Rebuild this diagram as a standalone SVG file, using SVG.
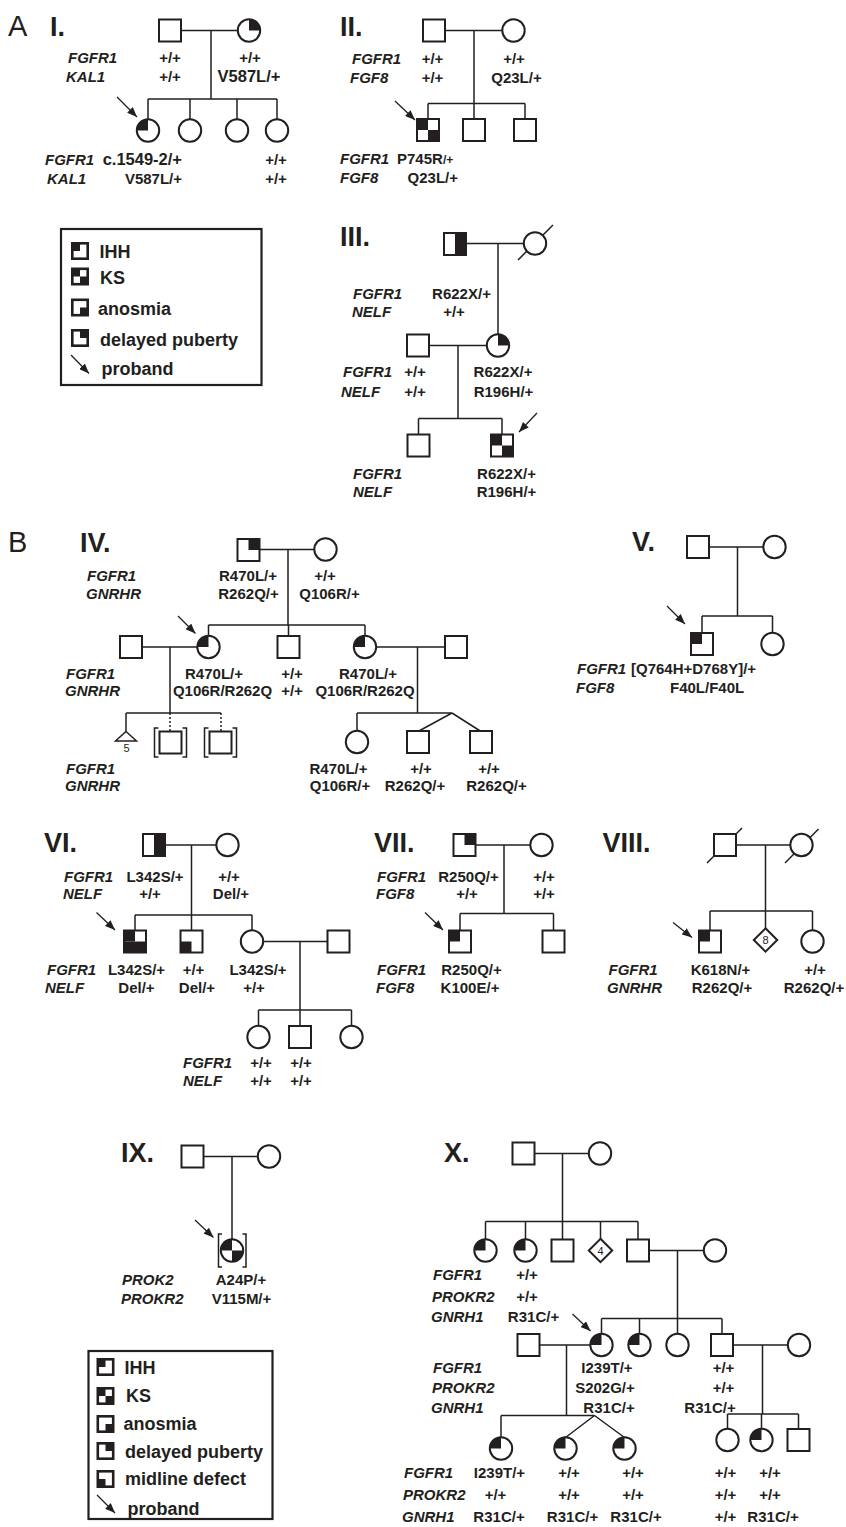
<svg xmlns="http://www.w3.org/2000/svg" xmlns:xlink="http://www.w3.org/1999/xlink" width="846" height="1527" viewBox="0 0 846 1527">
<style>
.sym{fill:#fff;stroke:#231f20;stroke-width:2}
.lsym{fill:#fff;stroke:#231f20;stroke-width:2.6}
.blk{fill:#231f20;stroke:none}
.ln{stroke:#231f20;stroke-width:1.5;fill:none}
.dot{stroke-dasharray:2 2}
.ar{stroke:#231f20;stroke-width:1.3;fill:none;marker-end:url(#ah)}
.box{fill:none;stroke:#231f20;stroke-width:2.2}
text{font-family:"Liberation Sans",Arial,Helvetica,sans-serif;font-weight:bold;font-size:15px;fill:#231f20}
.g{font-style:italic}
.m{text-anchor:middle}
.e{text-anchor:end}
.big{font-size:16.5px}
.lab{font-size:27px}
.sec{font-size:29px;font-weight:normal}
.leg{font-size:18px}
.num{font-size:11px;font-weight:normal}
</style>
<defs>
<marker id="ah" markerWidth="10" markerHeight="8" refX="10" refY="4" orient="auto" markerUnits="userSpaceOnUse"><path d="M0,0 L10,4 L0,8 Z" fill="#231f20"/></marker>
<rect id="sq" class="sym" x="-11" y="-11" width="22" height="22"/>
<circle id="ci" class="sym" r="11.2"/>
<rect id="sTL" class="blk" x="-11" y="-11" width="11" height="11"/>
<rect id="sTR" class="blk" x="0" y="-11" width="11" height="11"/>
<rect id="sBL" class="blk" x="-11" y="0" width="11" height="11"/>
<rect id="sBR" class="blk" x="0" y="0" width="11" height="11"/>
<path id="cTL" class="blk" d="M0,0H-11.2A11.2,11.2 0 0 1 0,-11.2Z"/>
<path id="cTR" class="blk" d="M0,0V-11.2A11.2,11.2 0 0 1 11.2,0Z"/>
<path id="cBR" class="blk" d="M0,0H11.2A11.2,11.2 0 0 1 0,11.2Z"/>
<path id="dm" class="sym" d="M0,-11.7L11.7,0L0,11.7L-11.7,0Z"/>
<rect id="lq" class="lsym" x="-7.7" y="-7.7" width="15.4" height="15.4"/>
<rect id="lTL" class="blk" x="-8" y="-8" width="8" height="8"/>
<rect id="lTR" class="blk" x="0" y="-8" width="8" height="8"/>
<rect id="lBL" class="blk" x="-8" y="0" width="8" height="8"/>
<rect id="lBR" class="blk" x="0" y="0" width="8" height="8"/>
</defs>
<rect width="846" height="1527" fill="#fff"/>

<g id="connectors">
<path class="ln" d="M181,30.5H238M211,30.5V99M148,99H277M148,99V119M190,99V119M237,99V119M277,99V119"/>
<path class="ln" d="M445,30.5H502M474,30.5V103.5M428,103.5H525M428,103.5V119M474,103.5V119M525,103.5V119"/>
<path class="ln" d="M466,243.5H524M498,243.5V334M429,345.5H487M458,345.5V418.5M418.5,418.5H502M418.5,418.5V434.5M502,418.5V434.5"/>
<path class="ln" d="M518,260L553,225"/>
<path class="ln" d="M259.5,549.5H314M288,549.5V625M208.5,625H365M208.5,625V636M288.5,625V636M365,625V636"/>
<path class="ln" d="M142,647H197.5M170,647V713M126,713H221M126,713V731.5"/>
<path class="ln dot" d="M170,713V731.5M221,713V731.5"/>
<path class="ln" d="M158.5,728H154.5V757H158.5M182.5,728H186.5V757H182.5M208.5,728H204.5V757H208.5M232.5,728H236.5V757H232.5"/>
<path class="ln" d="M376,647H445M417.5,647V713M357,713H452M357,713V731M452,713L418,731.5M452,713L481,731.5"/>
<path class="ln" d="M709,547H763.5M737.5,547V616M702,616H772.5M702,616V633M772.5,616V633"/>
<path class="ln" d="M165,845H216.5M191.5,845V915M135,915H252M135,915V930.5M191.5,915V930.5M252,915V930.5"/>
<path class="ln" d="M263,941.5H327.5M300,941.5V1010M258.5,1010H351.5M258.5,1010V1026M300,1010V1026M351.5,1010V1026"/>
<path class="ln" d="M475.5,845H530.5M504,845V913.5M460,913.5H553.5M460,913.5V930.5M553.5,913.5V930.5"/>
<path class="ln" d="M736,845H790.5M765.5,845V911M710,911H812.5M710,911V930.5M765.5,911V928.5M812.5,911V930.5"/>
<path class="ln" d="M707,863L742,828M785,863L818.5,829"/>
<path class="ln" d="M203.5,1156.5H258M232,1156.5V1239.5"/>
<path class="ln" d="M222,1234H218.5V1267H222M242.5,1234H246V1267H242.5"/>
<path class="ln" d="M534.5,1153.5H589M562.5,1153.5V1221.5M485.5,1221.5H638M485.5,1221.5V1239.5M525.5,1221.5V1239.5M562.5,1221.5V1239.5M600.5,1221.5V1239M638,1221.5V1239.5"/>
<path class="ln" d="M649,1250.5H704M677.5,1250.5V1318.5M601.5,1318.5H722M601.5,1318.5V1334M639.5,1318.5V1334M677.5,1318.5V1334M722,1318.5V1334"/>
<path class="ln" d="M539.5,1345H590.5M566.5,1345V1415.5M501,1415.5H594.5M501,1415.5V1437.5M594.5,1415.5L565.5,1437.5M594.5,1415.5L624.5,1437.5"/>
<path class="ln" d="M732.5,1345H788M762.5,1345V1414M727.5,1414H798.5M727.5,1414V1429M761.5,1414V1429M798.5,1414V1429"/>
<path class="ar" d="M117,97L137,117"/>
<path class="ar" d="M395,101L415,120"/>
<path class="ar" d="M537,413L519,432"/>
<path class="ar" d="M178,616L195.5,633.5"/>
<path class="ar" d="M667,606L685,624"/>
<path class="ar" d="M96.5,912.5L115,930"/>
<path class="ar" d="M425,912.5L443,930"/>
<path class="ar" d="M673,922.5L692,937.5"/>
<path class="ar" d="M195,1220L213.5,1237.5"/>
<path class="ar" d="M572.5,1314L590.5,1331"/>
</g>

<text class="sec" x="8" y="36">A</text>
<text class="sec" x="8" y="552">B</text>

<g id="panel-I">
<text class="lab" x="50" y="36">I.</text>
<text class="g" x="68" y="63">FGFR1</text>
<text class="g" x="66" y="82">KAL1</text>
<text class="g" x="45" y="165">FGFR1</text>
<text class="g" x="47" y="184">KAL1</text>
</g>
<g id="I-father"><use href="#sq" x="170" y="30.5"/><text class="m" x="170" y="63">+/+</text><text class="m" x="170" y="82">+/+</text></g>
<g id="I-mother"><use href="#ci" x="249" y="30.5"/><use href="#cTR" x="249" y="30.5"/><text class="m" x="250" y="63">+/+</text><text class="m big" x="249" y="82">V587L/+</text></g>
<g id="I-proband"><use href="#ci" x="148" y="130.5"/><use href="#cTL" x="148" y="130.5"/><text class="e big" x="182" y="165">c.1549-2/+</text><text class="e" x="182" y="184">V587L/+</text></g>
<g id="I-sib2"><use href="#ci" x="190" y="130.5"/></g>
<g id="I-sib3"><use href="#ci" x="237" y="130.5"/></g>
<g id="I-sib4"><use href="#ci" x="277" y="130.5"/><text class="m" x="276" y="165">+/+</text><text class="m" x="276" y="184">+/+</text></g>

<g id="panel-II">
<text class="lab" x="340" y="36">II.</text>
<text class="g" x="352" y="64">FGFR1</text>
<text class="g" x="350" y="82.5">FGF8</text>
<text class="g" x="340" y="164">FGFR1</text>
<text class="g" x="340" y="183">FGF8</text>
</g>
<g id="II-father"><use href="#sq" x="434" y="30.5"/><text class="m" x="432.5" y="64">+/+</text><text class="m" x="432.5" y="82.5">+/+</text></g>
<g id="II-mother"><use href="#ci" x="513.5" y="30.5"/><text class="m" x="514" y="64">+/+</text><text class="m" x="516.5" y="82.5">Q23L/+</text></g>
<g id="II-proband"><use href="#sq" x="428" y="130"/><use href="#sTL" x="428" y="130"/><use href="#sBR" x="428" y="130"/><text x="397" y="164">P745R<tspan font-size="12">/+</tspan></text><text class="e" x="458" y="183">Q23L/+</text></g>
<g id="II-sib2"><use href="#sq" x="474" y="130"/></g>
<g id="II-sib3"><use href="#sq" x="525" y="130"/></g>

<g id="legend-A">
<rect class="box" x="61" y="229" width="200.5" height="156"/>
<use href="#lq" x="80" y="251"/><use href="#lTL" x="80" y="251"/>
<text class="leg" x="99.5" y="258">IHH</text>
<use href="#lq" x="80" y="276.5"/><use href="#lTL" x="80" y="276.5"/><use href="#lBR" x="80" y="276.5"/>
<text class="leg" x="100" y="284">KS</text>
<use href="#lq" x="80" y="307.5"/><use href="#lBR" x="80" y="307.5"/>
<text class="leg" x="98" y="315">anosmia</text>
<use href="#lq" x="80" y="338"/><use href="#lTR" x="80" y="338"/>
<text class="leg" x="100" y="346">delayed puberty</text>
<path class="ar" d="M71,355L89,373.5"/>
<text class="leg" x="101.5" y="375">proband</text>
</g>

<g id="panel-III">
<text class="lab" x="340" y="246">III.</text>
<text class="g" x="353" y="299">FGFR1</text>
<text class="g" x="352" y="317">NELF</text>
<text class="g" x="343" y="377">FGFR1</text>
<text class="g" x="341" y="397">NELF</text>
<text class="g" x="353" y="478.5">FGFR1</text>
<text class="g" x="353" y="497">NELF</text>
</g>
<g id="III-grandfather"><use href="#sq" x="455" y="244"/><use href="#sTR" x="455" y="244"/><use href="#sBR" x="455" y="244"/><text class="m" x="461.5" y="299">R622X/+</text><text class="m" x="454" y="317">+/+</text></g>
<g id="III-grandmother"><use href="#ci" x="535" y="243.5"/></g>
<g id="III-mother"><use href="#ci" x="498" y="345.5"/><use href="#cTR" x="498" y="345.5"/><text class="m" x="503" y="377">R622X/+</text><text class="m" x="503.5" y="397">R196H/+</text></g>
<g id="III-father"><use href="#sq" x="418" y="345.5"/><text class="m" x="415" y="377">+/+</text><text class="m" x="415" y="397">+/+</text></g>
<g id="III-sib"><use href="#sq" x="418.5" y="445.5"/></g>
<g id="III-proband"><use href="#sq" x="502" y="445.5"/><use href="#sTL" x="502" y="445.5"/><use href="#sBR" x="502" y="445.5"/><text class="m" x="506.5" y="478.5">R622X/+</text><text class="m" x="506.5" y="497">R196H/+</text></g>

<g id="panel-IV">
<text class="lab" x="80" y="552">IV.</text>
<text class="g" x="87" y="581">FGFR1</text>
<text class="g" x="86" y="598.5">GNRHR</text>
<text class="g" x="66" y="678.5">FGFR1</text>
<text class="g" x="65" y="696">GNRHR</text>
<text class="g" x="66" y="773.5">FGFR1</text>
<text class="g" x="65" y="791">GNRHR</text>
</g>
<g id="IV-father"><use href="#sq" x="248.5" y="550"/><use href="#sTR" x="248.5" y="550"/><text class="m" x="248" y="581">R470L/+</text><text class="m" x="248.5" y="598.5">R262Q/+</text></g>
<g id="IV-mother"><use href="#ci" x="325.5" y="549.5"/><text class="m" x="325" y="581">+/+</text><text class="m" x="329.5" y="598.5">Q106R/+</text></g>
<g id="IV-proband"><use href="#ci" x="208.5" y="647"/><use href="#cTL" x="208.5" y="647"/><text class="m" x="214" y="678.5">R470L/+</text><text class="m" x="222.5" y="696">Q106R/R262Q</text></g>
<g id="IV-husband1"><use href="#sq" x="131" y="647"/></g>
<g id="IV-brother"><use href="#sq" x="288.5" y="647"/><text class="m" x="292" y="678.5">+/+</text><text class="m" x="292" y="696">+/+</text></g>
<g id="IV-sister"><use href="#ci" x="365" y="647"/><use href="#cTL" x="365" y="647"/><text class="m" x="368" y="678.5">R470L/+</text><text class="m" x="365" y="696">Q106R/R262Q</text></g>
<g id="IV-husband2"><use href="#sq" x="456" y="647"/></g>
<g id="IV-five"><path class="sym" style="stroke-width:1.5" d="M126,731.5L136.5,741L115.5,741Z"/><text class="num m" x="126.5" y="752">5</text></g>
<g id="IV-child2"><use href="#sq" x="170.5" y="742.5"/></g>
<g id="IV-child3"><use href="#sq" x="220.5" y="742.5"/></g>
<g id="IV-niece"><use href="#ci" x="357" y="742"/><text class="m" x="338.5" y="773.5">R470L/+</text><text class="m" x="340" y="791">Q106R/+</text></g>
<g id="IV-twin1"><use href="#sq" x="418" y="742"/><text class="m" x="421" y="773.5">+/+</text><text class="m" x="415" y="791">R262Q/+</text></g>
<g id="IV-twin2"><use href="#sq" x="481" y="742"/><text class="m" x="489" y="773.5">+/+</text><text class="m" x="496.5" y="791">R262Q/+</text></g>

<g id="panel-V">
<text class="lab" x="632" y="551">V.</text>
<text class="g" x="577" y="674">FGFR1</text>
<text class="g" x="576" y="692.5">FGF8</text>
</g>
<g id="V-father"><use href="#sq" x="698" y="547"/></g>
<g id="V-mother"><use href="#ci" x="774.5" y="547"/></g>
<g id="V-proband"><use href="#sq" x="702" y="644"/><use href="#sTL" x="702" y="644"/><text x="631" y="674">[Q764H+D768Y]/+</text><text x="670" y="692.5">F40L/F40L</text></g>
<g id="V-sister"><use href="#ci" x="772.5" y="644"/></g>

<g id="panel-VI">
<text class="lab" x="44" y="852">VI.</text>
<text class="g" x="64" y="882">FGFR1</text>
<text class="g" x="63" y="899">NELF</text>
<text class="g" x="47" y="975">FGFR1</text>
<text class="g" x="45" y="993">NELF</text>
<text class="g" x="183" y="1068">FGFR1</text>
<text class="g" x="183" y="1086">NELF</text>
</g>
<g id="VI-father"><use href="#sq" x="154" y="845"/><use href="#sTR" x="154" y="845"/><use href="#sBR" x="154" y="845"/><text class="m" x="155" y="882">L342S/+</text><text class="m" x="150" y="899">+/+</text></g>
<g id="VI-mother"><use href="#ci" x="227.5" y="845"/><text class="m" x="229" y="882">+/+</text><text class="m" x="231" y="899">Del/+</text></g>
<g id="VI-proband"><use href="#sq" x="135" y="941.5"/><use href="#sTL" x="135" y="941.5"/><use href="#sBL" x="135" y="941.5"/><use href="#sBR" x="135" y="941.5"/><text class="m" x="136.5" y="975">L342S/+</text><text class="m" x="136.5" y="993">Del/+</text></g>
<g id="VI-brother"><use href="#sq" x="191.5" y="941.5"/><use href="#sBL" x="191.5" y="941.5"/><text class="m" x="193.5" y="975">+/+</text><text class="m" x="197" y="993">Del/+</text></g>
<g id="VI-sister"><use href="#ci" x="252" y="941.5"/><text class="m" x="258" y="975">L342S/+</text><text class="m" x="254" y="993">+/+</text></g>
<g id="VI-husband"><use href="#sq" x="338.5" y="941.5"/></g>
<g id="VI-gc1"><use href="#ci" x="258.5" y="1037"/><text class="m" x="261" y="1068">+/+</text><text class="m" x="261" y="1086">+/+</text></g>
<g id="VI-gc2"><use href="#sq" x="300" y="1037"/><text class="m" x="301" y="1068">+/+</text><text class="m" x="301" y="1086">+/+</text></g>
<g id="VI-gc3"><use href="#ci" x="351.5" y="1037"/></g>

<g id="panel-VII">
<text class="lab" x="374" y="852">VII.</text>
<text class="g" x="377" y="882">FGFR1</text>
<text class="g" x="376" y="899">FGF8</text>
<text class="g" x="377" y="975">FGFR1</text>
<text class="g" x="376" y="993">FGF8</text>
</g>
<g id="VII-father"><use href="#sq" x="464.5" y="845"/><use href="#sTR" x="464.5" y="845"/><text class="m" x="468.5" y="882">R250Q/+</text><text class="m" x="467" y="899">+/+</text></g>
<g id="VII-mother"><use href="#ci" x="541.5" y="845"/><text class="m" x="544" y="882">+/+</text><text class="m" x="544" y="899">+/+</text></g>
<g id="VII-proband"><use href="#sq" x="460" y="941.5"/><use href="#sTL" x="460" y="941.5"/><text class="m" x="471.5" y="975">R250Q/+</text><text class="m" x="470" y="993">K100E/+</text></g>
<g id="VII-brother"><use href="#sq" x="553.5" y="941.5"/></g>

<g id="panel-VIII">
<text class="lab" x="602.5" y="852">VIII.</text>
<text class="g" x="608.5" y="975">FGFR1</text>
<text class="g" x="607" y="993">GNRHR</text>
</g>
<g id="VIII-father"><use href="#sq" x="725" y="845"/></g>
<g id="VIII-mother"><use href="#ci" x="801.5" y="845"/></g>
<g id="VIII-proband"><use href="#sq" x="710" y="941.5"/><use href="#sTL" x="710" y="941.5"/><text class="m" x="720.5" y="975">K618N/+</text><text class="m" x="722" y="993">R262Q/+</text></g>
<g id="VIII-sibs8"><use href="#dm" x="765.5" y="940"/><text class="num m" x="765.5" y="944">8</text></g>
<g id="VIII-sister"><use href="#ci" x="812.5" y="941.5"/><text class="m" x="815" y="975">+/+</text><text class="m" x="814" y="993">R262Q/+</text></g>

<g id="panel-IX">
<text class="lab" x="121" y="1162">IX.</text>
<text class="g" x="122" y="1285">PROK2</text>
<text class="g" x="121" y="1304">PROKR2</text>
</g>
<g id="IX-father"><use href="#sq" x="192.5" y="1156.5"/></g>
<g id="IX-mother"><use href="#ci" x="269" y="1156.5"/></g>
<g id="IX-proband"><use href="#ci" x="232" y="1250.5"/><use href="#cTL" x="232" y="1250.5"/><use href="#cBR" x="232" y="1250.5"/><text class="m" x="241" y="1285">A24P/+</text><text class="m" x="241.5" y="1304">V115M/+</text></g>

<g id="legend-B">
<rect class="box" x="88.5" y="1351" width="184" height="168"/>
<use href="#lq" x="105.5" y="1367"/><use href="#lTL" x="105.5" y="1367"/>
<text class="leg" x="124.5" y="1373.5">IHH</text>
<use href="#lq" x="105.5" y="1396"/><use href="#lTL" x="105.5" y="1396"/><use href="#lBR" x="105.5" y="1396"/>
<text class="leg" x="126" y="1402">KS</text>
<use href="#lq" x="105.5" y="1424"/><use href="#lBR" x="105.5" y="1424"/>
<text class="leg" x="123.5" y="1430">anosmia</text>
<use href="#lq" x="105.5" y="1451"/><use href="#lTR" x="105.5" y="1451"/>
<text class="leg" x="125" y="1458">delayed puberty</text>
<use href="#lq" x="105.5" y="1479"/><use href="#lBL" x="105.5" y="1479"/>
<text class="leg" x="125" y="1485">midline defect</text>
<path class="ar" d="M97,1495L115,1513"/>
<text class="leg" x="127.5" y="1515">proband</text>
</g>

<g id="panel-X">
<text class="lab" x="444" y="1162">X.</text>
<text class="g" x="433" y="1280">FGFR1</text>
<text class="g" x="432" y="1301.5">PROKR2</text>
<text class="g" x="431" y="1321.5">GNRH1</text>
<text class="g" x="433" y="1372.5">FGFR1</text>
<text class="g" x="432" y="1393">PROKR2</text>
<text class="g" x="431" y="1413">GNRH1</text>
<text class="g" x="404" y="1478">FGFR1</text>
<text class="g" x="403" y="1500">PROKR2</text>
<text class="g" x="402" y="1521.5">GNRH1</text>
</g>
<g id="X-grandfather"><use href="#sq" x="523.5" y="1153.5"/></g>
<g id="X-grandmother"><use href="#ci" x="600" y="1153.5"/></g>
<g id="X-aunt1"><use href="#ci" x="485.5" y="1250.5"/><use href="#cTL" x="485.5" y="1250.5"/></g>
<g id="X-aunt2"><use href="#ci" x="525.5" y="1250.5"/><use href="#cTL" x="525.5" y="1250.5"/><text class="m" x="527" y="1280">+/+</text><text class="m" x="527" y="1301.5">+/+</text><text class="m" x="533.5" y="1321.5">R31C/+</text></g>
<g id="X-uncle"><use href="#sq" x="562.5" y="1250.5"/></g>
<g id="X-sibs4"><use href="#dm" x="600.5" y="1250.5"/><text class="num m" x="600.5" y="1254.5">4</text></g>
<g id="X-father"><use href="#sq" x="638" y="1250.5"/></g>
<g id="X-mother"><use href="#ci" x="715" y="1250.5"/></g>
<g id="X-proband"><use href="#ci" x="601.5" y="1345"/><use href="#cTL" x="601.5" y="1345"/><text class="m" x="607" y="1372.5">I239T/+</text><text class="m" x="605" y="1393">S202G/+</text><text class="m" x="609" y="1413">R31C/+</text></g>
<g id="X-husband"><use href="#sq" x="528.5" y="1345"/></g>
<g id="X-sister1"><use href="#ci" x="639.5" y="1345"/><use href="#cTL" x="639.5" y="1345"/></g>
<g id="X-sister2"><use href="#ci" x="677.5" y="1345"/></g>
<g id="X-brother"><use href="#sq" x="722" y="1345"/><text class="m" x="723.5" y="1372.5">+/+</text><text class="m" x="723.5" y="1393">+/+</text><text class="m" x="710" y="1413">R31C/+</text></g>
<g id="X-sil"><use href="#ci" x="799" y="1345"/></g>
<g id="X-d1"><use href="#ci" x="501" y="1448.5"/><use href="#cTL" x="501" y="1448.5"/><text class="m" x="499.5" y="1478">I239T/+</text><text class="m" x="495.5" y="1500">+/+</text><text class="m" x="499" y="1521.5">R31C/+</text></g>
<g id="X-d2"><use href="#ci" x="565.5" y="1448.5"/><use href="#cTL" x="565.5" y="1448.5"/><text class="m" x="569" y="1478">+/+</text><text class="m" x="569" y="1500">+/+</text><text class="m" x="572.5" y="1521.5">R31C/+</text></g>
<g id="X-d3"><use href="#ci" x="624.5" y="1448.5"/><use href="#cTL" x="624.5" y="1448.5"/><text class="m" x="633" y="1478">+/+</text><text class="m" x="633" y="1500">+/+</text><text class="m" x="636" y="1521.5">R31C/+</text></g>
<g id="X-c1"><use href="#ci" x="727.5" y="1440"/><text class="m" x="725.5" y="1478">+/+</text><text class="m" x="725.5" y="1500">+/+</text><text class="m" x="725.5" y="1521.5">+/+</text></g>
<g id="X-c2"><use href="#ci" x="761.5" y="1440"/><use href="#cTL" x="761.5" y="1440"/><text class="m" x="770" y="1478">+/+</text><text class="m" x="770" y="1500">+/+</text><text class="m" x="773" y="1521.5">R31C/+</text></g>
<g id="X-c3"><use href="#sq" x="798.5" y="1440"/></g>
</svg>
